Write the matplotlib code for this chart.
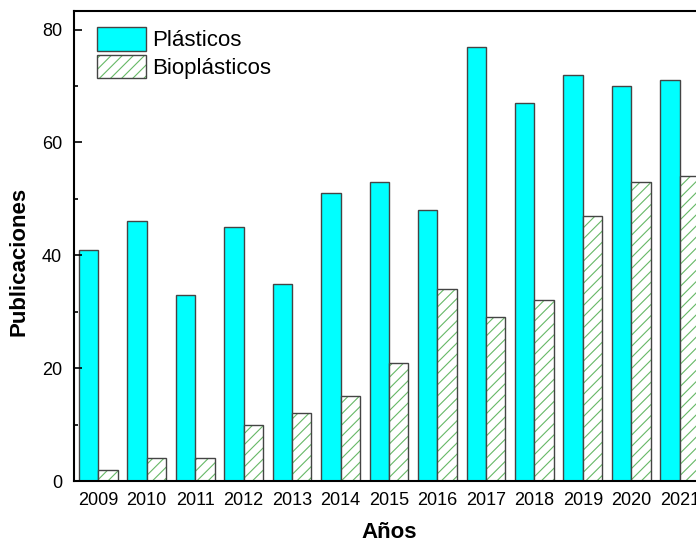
import numpy as np
import matplotlib
matplotlib.use("Agg")
import matplotlib.pyplot as plt
from matplotlib.ticker import MultipleLocator
from matplotlib.patches import Patch
from matplotlib.legend_handler import HandlerTuple

plt.rcParams['font.family'] = ['Liberation Sans', 'DejaVu Sans']
plt.rcParams['hatch.linewidth'] = 0.8

# publicaciones por año
years = [2009, 2010, 2011, 2012, 2013, 2014, 2015, 2016, 2017, 2018, 2019, 2020, 2021]
plasticos = [41, 46, 33, 45, 35, 51, 53, 48, 77, 67, 72, 70, 71]
bioplasticos = [2, 4, 4, 10, 12, 15, 21, 34, 29, 32, 47, 53, 54]

x = np.array(years)
w = 0.4
cian = '#00ffff'
verde = '#66b866'
borde = '#444444'

fig = plt.figure(figsize=(6.96, 5.44), dpi=100)
# el eje derecho queda fuera del recorte
ax = fig.add_axes([74 / 696, 63 / 544, 630 / 696, 470 / 544])

ax.bar(x - w / 2, plasticos, w, color=cian, edgecolor=borde, linewidth=1.0)
ax.bar(x + w / 2, bioplasticos, w, color='white', edgecolor=verde,
       hatch='///', linewidth=0)
# borde gris de las barras rayadas
ax.bar(x + w / 2, bioplasticos, w, color='none', edgecolor=borde,
       linewidth=1.0)

ax.set_xlim(2008.5, 2021.5)
ax.set_ylim(0, 83.3)
ax.set_xticks(x)
ax.set_xticklabels([str(y) for y in years])
ax.yaxis.set_major_locator(MultipleLocator(20))
ax.yaxis.set_minor_locator(MultipleLocator(10))

ax.tick_params(axis='x', length=0, pad=8, labelsize=13)
ax.tick_params(axis='y', which='major', direction='in', length=6, width=1.2,
               right=True, labelsize=13, pad=8.5)
ax.tick_params(axis='y', which='minor', direction='in', length=3, width=1.2,
               right=True)
for s in ax.spines.values():
    s.set_linewidth(1.5)

ax.set_xlabel('Años', fontsize=16, fontweight='bold', labelpad=9)
ax.set_ylabel('Publicaciones', fontsize=16, fontweight='bold', labelpad=9)
ax.yaxis.label.set_y(0.468)

h_plas = Patch(facecolor=cian, edgecolor=borde, linewidth=1.0)
h_bio = (Patch(facecolor='white', edgecolor=verde, hatch='///', linewidth=0),
         Patch(facecolor='none', edgecolor=borde, linewidth=1.0))
ax.legend([h_plas, h_bio], ['Plásticos', 'Bioplásticos'],
          handler_map={tuple: HandlerTuple(ndivide=1)},
          loc='upper left', frameon=False, fontsize=16,
          handlelength=2.2, handleheight=1.25, handletextpad=0.3,
          labelspacing=0.15, borderpad=0, borderaxespad=0,
          bbox_to_anchor=(23 / 630, 1 - 16 / 470))

fig.savefig('out.png', dpi=100)
